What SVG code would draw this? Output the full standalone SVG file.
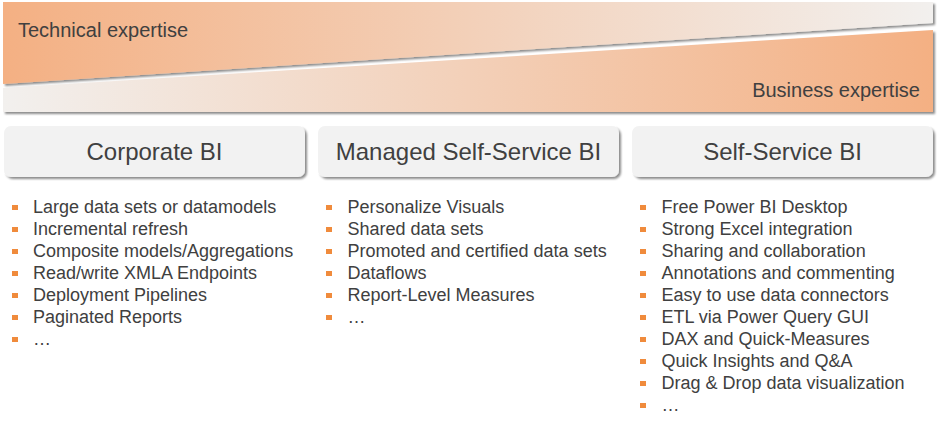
<svg xmlns="http://www.w3.org/2000/svg" width="940" height="427" viewBox="0 0 940 427">
<defs>
<linearGradient id="gTech" x1="0" y1="0" x2="1" y2="0">
<stop offset="0" stop-color="#f4b083"/>
<stop offset="1" stop-color="#f2f0ee"/>
</linearGradient>
<linearGradient id="gBiz" x1="0" y1="0" x2="1" y2="0">
<stop offset="0" stop-color="#f2f0ee"/>
<stop offset="1" stop-color="#f4b083"/>
</linearGradient>
<filter id="sh" x="-5%" y="-20%" width="110%" height="150%">
<feDropShadow dx="2" dy="2" stdDeviation="1.2" flood-color="#000" flood-opacity="0.45"/>
</filter>
<rect id="blt" width="6" height="5" fill="#f08b3c"/>
</defs>
<style>
text{font-family:"Liberation Sans",Arial,sans-serif;fill:#404040}
.hdr{font-size:20px}
.ttl{font-size:24px;text-anchor:middle}
.itm{font-size:18px}
.box{fill:#f2f2f2;filter:url(#sh)}
.bl{fill:#f08b3c}
</style>
<rect width="940" height="427" fill="#ffffff"/>
<g id="expertise">
<polygon points="3,88 933,30 933,112 3,112" fill="url(#gBiz)" filter="url(#sh)"/>
<polygon points="3,2 933,2 933,23 3,84" fill="url(#gTech)" filter="url(#sh)"/>
<text class="hdr" x="18" y="37">Technical expertise</text>
<text class="hdr" x="920" y="97" text-anchor="end">Business expertise</text>
</g>
<g id="corporate">
<rect class="box" x="4" y="126" width="301" height="51" rx="7"/>
<text class="ttl" x="154.5" y="160">Corporate BI</text>
<g class="itm">
<rect class="bl" x="12" y="205" width="6" height="5"/><text class="itm" x="33" y="213">Large data sets or datamodels</text>
<rect class="bl" x="12" y="227" width="6" height="5"/><text class="itm" x="33" y="235">Incremental refresh</text>
<rect class="bl" x="12" y="249" width="6" height="5"/><text class="itm" x="33" y="257">Composite models/Aggregations</text>
<rect class="bl" x="12" y="271" width="6" height="5"/><text class="itm" x="33" y="279">Read/write XMLA Endpoints</text>
<rect class="bl" x="12" y="293" width="6" height="5"/><text class="itm" x="33" y="301">Deployment Pipelines</text>
<rect class="bl" x="12" y="315" width="6" height="5"/><text class="itm" x="33" y="323">Paginated Reports</text>
<rect class="bl" x="12" y="337" width="6" height="5"/><text class="itm" x="33" y="345">…</text>
</g>
</g>
<g id="managed">
<rect class="box" x="318" y="126" width="301" height="51" rx="7"/>
<text class="ttl" x="468.5" y="160">Managed Self-Service BI</text>
<rect class="bl" x="326" y="205" width="6" height="5"/><text class="itm" x="347.5" y="213">Personalize Visuals</text>
<rect class="bl" x="326" y="227" width="6" height="5"/><text class="itm" x="347.5" y="235">Shared data sets</text>
<rect class="bl" x="326" y="249" width="6" height="5"/><text class="itm" x="347.5" y="257">Promoted and certified data sets</text>
<rect class="bl" x="326" y="271" width="6" height="5"/><text class="itm" x="347.5" y="279">Dataflows</text>
<rect class="bl" x="326" y="293" width="6" height="5"/><text class="itm" x="347.5" y="301">Report-Level Measures</text>
<rect class="bl" x="326" y="315" width="6" height="5"/><text class="itm" x="347.5" y="323">…</text>
</g>
<g id="selfservice">
<rect class="box" x="632" y="126" width="301" height="51" rx="7"/>
<text class="ttl" x="782.5" y="160">Self-Service BI</text>
<rect class="bl" x="640" y="205" width="6" height="5"/><text class="itm" x="661.5" y="213">Free Power BI Desktop</text>
<rect class="bl" x="640" y="227" width="6" height="5"/><text class="itm" x="661.5" y="235">Strong Excel integration</text>
<rect class="bl" x="640" y="249" width="6" height="5"/><text class="itm" x="661.5" y="257">Sharing and collaboration</text>
<rect class="bl" x="640" y="271" width="6" height="5"/><text class="itm" x="661.5" y="279">Annotations and commenting</text>
<rect class="bl" x="640" y="293" width="6" height="5"/><text class="itm" x="661.5" y="301">Easy to use data connectors</text>
<rect class="bl" x="640" y="315" width="6" height="5"/><text class="itm" x="661.5" y="323">ETL via Power Query GUI</text>
<rect class="bl" x="640" y="337" width="6" height="5"/><text class="itm" x="661.5" y="345">DAX and Quick-Measures</text>
<rect class="bl" x="640" y="359" width="6" height="5"/><text class="itm" x="661.5" y="367">Quick Insights and Q&amp;A</text>
<rect class="bl" x="640" y="381" width="6" height="5"/><text class="itm" x="661.5" y="389">Drag &amp; Drop data visualization</text>
<rect class="bl" x="640" y="403" width="6" height="5"/><text class="itm" x="661.5" y="411">…</text>
</g>
<g id="connectors"/>
</svg>
